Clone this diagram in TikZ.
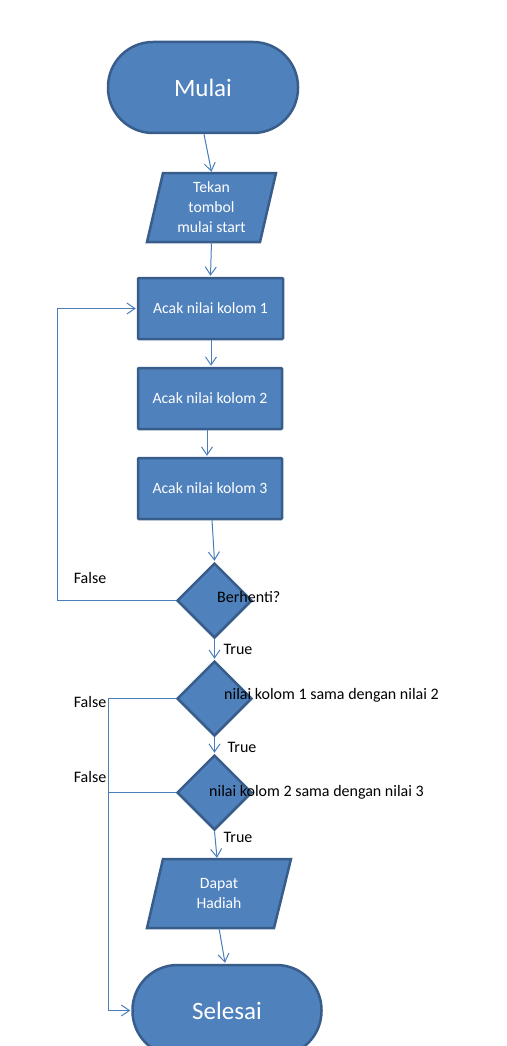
\documentclass[tikz,border=0pt]{standalone}
\usepackage{fontspec}
\setmainfont{Carlito}
\usetikzlibrary{shapes.geometric,arrows.meta}
\definecolor{fillblue}{HTML}{4F81BD}
\definecolor{edgeblue}{HTML}{385D8A}
\definecolor{linkblue}{HTML}{4A7EBB}
\tikzset{
  x=1pt, y=-1pt,
  terminal/.style={draw=edgeblue, line width=2.5pt, fill=fillblue, rectangle, rounded corners=45pt,
    minimum width=190pt, minimum height=91pt, text=white, font=\fontsize{25}{29}\selectfont},
  procbox/.style={draw=edgeblue, line width=2.5pt, fill=fillblue, rectangle, rounded corners=1pt,
    minimum width=144pt, minimum height=61pt, text=white, font=\fontsize{15.7}{19}\selectfont},
  iotext/.style={rectangle, inner sep=0pt, minimum height=69pt, minimum width=113pt, text=white,
    align=center, font=\fontsize{15.7}{20}\selectfont},
  iobox/.style={draw=edgeblue, line width=2.5pt, fill=fillblue, line join=miter},
  decision/.style={draw=edgeblue, line width=2.5pt, fill=fillblue, diamond, inner sep=0pt,
    minimum width=75pt, minimum height=75pt},
  lbl/.style={text=black, inner sep=0pt, font=\fontsize{16}{19}\selectfont},
  link/.style={draw=linkblue, line width=1pt, -{Straight Barb[length=8pt, width=11pt, line width=1pt]}},
  plainlink/.style={draw=linkblue, line width=1pt}
}
\begin{document}
\begin{tikzpicture}
\useasboundingbox (0,0) rectangle (506,1046);
\clip (0,0) rectangle (506,1046);

% shapes
\node[terminal] (mulai) at (203,87.5) {Mulai};

\draw[iobox] (163,173) -- (276,173) -- (260,242) -- (147,242) -- cycle;
\node[iotext] (tekan) at (211.5,207.5) {Tekan\\tombol\\mulai start};

\node[procbox, minimum width=145pt] (box1) at (210.5,308.5) {Acak nilai kolom 1};
\node[procbox] (box2) at (210,398.5) {Acak nilai kolom 2};
\node[procbox] (box3) at (210,488.5) {Acak nilai kolom 3};

\node[decision] (d1) at (214.5,600.5) {};
\node[decision] (d2) at (214.5,698.5) {};
\node[decision] (d3) at (214.5,792.5) {};

\draw[iobox] (163,859) -- (291,859) -- (274,928) -- (147,928) -- cycle;
\node[iotext, minimum width=127pt] (dapat) at (219,893.5) {Dapat\\Hadiah};

\node[terminal, minimum width=189pt] (selesai) at (227,1010.5) {Selesai};

% decision texts
\node[lbl, anchor=west] (t1) at (217,597) {Berhenti?};
\node[lbl, anchor=west] (t2) at (224,695) {nilai kolom 1 sama dengan nilai 2};
\node[lbl, anchor=west] (t3) at (209,792) {nilai kolom 2 sama dengan nilai 3};

% branch labels
\node[lbl] (f1) at (90,578) {False};
\node[lbl] (f2) at (90,702) {False};
\node[lbl] (f3) at (90,777) {False};
\node[lbl] (tr1) at (238,649) {True};
\node[lbl] (tr2) at (242,747) {True};
\node[lbl] (tr3) at (238,837) {True};

% connectors
\coordinate (j1) at (57,600.5);
\coordinate (j2) at (57,308.5);
\coordinate (j3) at (108,698.5);
\coordinate (j4) at (108,1010.5);
\coordinate (j5) at (108,792.5);

\draw[link] ([xshift=1pt]mulai.south) -- ([yshift=1pt]tekan.north);
\draw[link] (tekan.south) -- ([yshift=1pt]box1.north);
\draw[link] ([xshift=0.5pt]box1.south) -- ([xshift=1pt,yshift=1pt]box2.north);
\draw[link] ([xshift=-3pt]box2.south) -- ([xshift=-3pt,yshift=1pt]box3.north);
\draw[link] ([xshift=2pt]box3.south) -- ([yshift=1pt]d1.north);
\draw[link] (d1.south) -- ([yshift=1pt]d2.north);
\draw[link] (d2.south) -- ([yshift=1pt]d3.north);
\draw[link] (d3.south) -- ([xshift=-2pt,yshift=1pt]dapat.north);
\draw[link] (dapat.south) -- ([xshift=-2pt,yshift=1pt]selesai.north);

\draw[link] (d1.west) -- (j1) -- (j2) -- ([xshift=-1pt]box1.west);
\draw[link] (d2.west) -- (j3) -- (j4) -- ([xshift=-1pt]selesai.west);
\draw[plainlink] (d3.west) -- (j5);
\end{tikzpicture}
\end{document}
